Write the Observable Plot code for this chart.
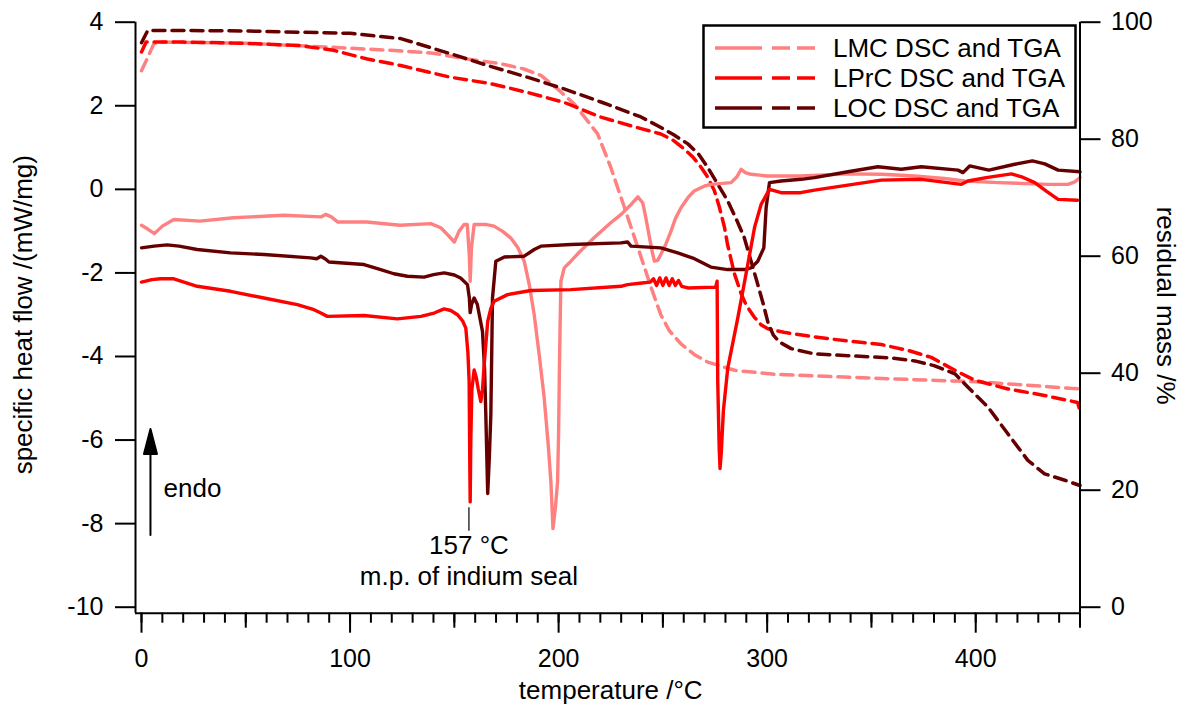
<!DOCTYPE html>
<html><head><meta charset="utf-8">
<script src="https://cdn.jsdelivr.net/npm/d3@7"></script>
<script src="https://cdn.jsdelivr.net/npm/@observablehq/plot@0.6"></script>
<style>
html,body{margin:0;padding:0;background:#fff;}
#wrap{position:relative;width:1184px;height:706px;overflow:hidden;font-family:"Liberation Sans",Arial,sans-serif;}
</style></head><body><div id="wrap"></div>
<script>
// ---------- data ----------
const seriesNames = ["LMC", "LPrC", "LOC"];
const seriesColors = ["#ff8080", "#ff0000", "#660000"];
const legendLabels = ["LMC DSC and TGA", "LPrC DSC and TGA", "LOC DSC and TGA"];

// DSC: [temperature °C, specific heat flow mW/mg]
const lmcDSC = [[0,-0.86],[3,-0.95],[6.2,-1.06],[10,-0.88],[15.5,-0.72],[28,-0.76],[44,-0.68],[68,-0.62],[86,-0.66],[88.3,-0.6],[91,-0.66],[94,-0.78],[108,-0.78],[124,-0.86],[138.7,-0.82],[143.5,-0.92],[147,-1.1],[150,-1.26],[152.3,-1.0],[154.7,-0.84],[156.2,-0.84],[157.2,-1.6],[157.6,-2.2],[158.2,-1.4],[159.5,-0.84],[165,-0.84],[169,-0.88],[173,-1.0],[177,-1.16],[180.5,-1.4],[183.5,-1.72],[186,-2.3],[188.3,-3.0],[190.8,-4.0],[193.1,-5.0],[195,-6.1],[196.3,-7.0],[197.3,-8.12],[198.5,-7.6],[199.5,-7.0],[200,-5.8],[200.3,-4.6],[200.7,-3.3],[201.1,-2.2],[202.7,-1.88],[205.9,-1.72],[210,-1.5],[217,-1.16],[225,-0.8],[230,-0.6],[235,-0.35],[238,-0.18],[240.3,-0.32],[241.5,-0.6],[242.7,-0.92],[244.5,-1.4],[245.9,-1.72],[247.5,-1.7],[249,-1.56],[251.5,-1.3],[253.9,-1.0],[256,-0.7],[258.7,-0.44],[262,-0.2],[265,-0.04],[270,0.08],[273,0.12],[282.7,0.16],[285.5,0.3],[287.5,0.48],[289.5,0.4],[292.3,0.36],[300,0.32],[316,0.32],[338.7,0.37],[355,0.36],[370.7,0.32],[385,0.26],[394.7,0.2],[410.7,0.16],[434.7,0.12],[444.3,0.12],[447.5,0.18],[450,0.28]];
const lprcDSC = [[0,-2.22],[5,-2.16],[9,-2.14],[15.5,-2.14],[26.7,-2.32],[42.7,-2.44],[58.7,-2.6],[74.7,-2.76],[82.7,-2.88],[86,-2.96],[89.1,-3.04],[106.7,-3.02],[122.7,-3.1],[134,-3.04],[140.3,-2.96],[145.1,-2.86],[148.3,-2.9],[151.5,-3.0],[154,-3.15],[155.5,-3.32],[156.5,-3.9],[157.1,-4.6],[157.4,-6.5],[157.6,-7.48],[157.9,-6.0],[158.4,-4.8],[159.5,-4.32],[160.5,-4.5],[161.4,-4.76],[162.7,-5.08],[163.5,-4.8],[164.3,-4.2],[166,-3.16],[167.5,-2.85],[169.1,-2.68],[175.5,-2.52],[186.7,-2.42],[205.9,-2.4],[229.9,-2.32],[233,-2.28],[240,-2.24],[244,-2.22],[245.5,-2.14],[247,-2.3],[248.5,-2.12],[250,-2.3],[251.5,-2.12],[253,-2.3],[254.5,-2.14],[256,-2.3],[257.5,-2.18],[259,-2.32],[262,-2.36],[275.3,-2.34],[276,-2.2],[276.3,-4.6],[277,-6.2],[277.4,-6.68],[278,-6.3],[279,-5.3],[281.1,-4.28],[285.9,-3.08],[290.7,-1.8],[294,-0.9],[297.1,-0.36],[301.1,0.0],[306.7,-0.08],[316,-0.08],[322.7,-0.02],[338.7,0.1],[354.7,0.22],[373.9,0.24],[393.1,0.12],[396.3,0.2],[405,0.28],[417.1,0.37],[422,0.3],[428.3,0.16],[434,-0.05],[439.5,-0.24],[448.8,-0.26]];
const locDSC = [[0,-1.4],[6,-1.36],[12.3,-1.33],[18,-1.36],[26.7,-1.44],[42.7,-1.52],[58.7,-1.56],[81.1,-1.64],[84,-1.66],[86,-1.6],[88,-1.66],[89.9,-1.74],[106.7,-1.8],[114.7,-1.92],[121,-2.02],[127.5,-2.08],[135.5,-2.1],[140,-2.04],[145.1,-2.0],[150,-2.05],[153,-2.12],[156.3,-2.28],[157.2,-2.6],[157.6,-2.95],[158.3,-2.75],[159.5,-2.6],[161,-2.75],[163.5,-3.4],[164.5,-4.3],[165.1,-5.4],[166,-7.28],[166.8,-6.4],[167.5,-5.4],[168.3,-2.6],[169.9,-1.72],[174,-1.62],[183.5,-1.6],[188.3,-1.44],[191.5,-1.36],[205.9,-1.32],[229.9,-1.28],[233.1,-1.26],[234.7,-1.36],[249,-1.4],[257.1,-1.52],[265.1,-1.66],[273,-1.86],[281,-1.92],[289.1,-1.92],[292.3,-1.88],[295.5,-1.72],[298.4,-1.4],[299.5,-0.44],[301.1,0.16],[306.7,0.2],[316.3,0.24],[322.7,0.28],[338.7,0.42],[353.1,0.54],[364.3,0.48],[373.9,0.54],[391.5,0.46],[393.9,0.4],[397.1,0.56],[406.3,0.46],[418.7,0.6],[427.2,0.68],[433.1,0.61],[439.5,0.46],[450,0.42]];

// TGA: [temperature °C, residual mass %]
const lmcTGA = [[0,91.7],[3,94],[5.9,96.3],[10,96.6],[50,96.4],[92,95.7],[119.5,95.2],[140,94.7],[156.3,93.7],[172.3,92.9],[183.4,92.0],[191.5,90.9],[199.5,88.6],[207.5,86.0],[212,84],[218.7,80.9],[225,75.2],[231.5,68.4],[238,61.5],[244.3,54.7],[249,50],[253,47.3],[258.7,45],[265,43.2],[271.5,41.9],[284.4,40.5],[303.6,39.8],[332,39.4],[370.8,38.9],[402.7,38.5],[434.7,37.7],[450,37.3]];
const lprcTGA = [[0,94.9],[2.2,96.6],[20,96.6],[50,96.4],[76,96.0],[92,95.2],[108.3,93.7],[124.3,92.6],[148,90.6],[167.5,89.5],[185,88],[202.6,86.3],[220,83.8],[239.5,81.8],[249,80.9],[255,79.8],[260,78.4],[264.5,76.9],[268.3,75.2],[271.5,73.5],[274.7,71.2],[277,68.5],[279.5,65],[281,62],[284.3,57],[287.5,53.6],[290,51.6],[293.8,49.6],[297,48.3],[300.3,47.6],[308,47],[322.6,46.2],[338.7,45.5],[354.7,44.9],[367.5,43.9],[378.7,42.7],[390,40.5],[399.5,38.8],[415.5,37.3],[433,36.2],[448.8,35],[450,33.6]];
const locTGA = [[0,96.5],[3,98.6],[10,98.6],[50,98.5],[100,98.1],[124.3,97.2],[148.3,94.6],[166,92.6],[185,90.6],[202.6,88.6],[220,86.4],[239.5,83.8],[247.5,82.3],[255,80.8],[262,79.2],[267,77.5],[271.5,75.2],[276,72.5],[281,69.5],[285,66.5],[289,63.2],[292,59.5],[295,55.8],[298,52],[300.5,48.5],[303,46.5],[306,45.3],[311.5,44.2],[322.6,43.3],[338.7,43],[359.5,42.6],[370.8,42.1],[380,41.3],[390,39.9],[396.3,37.6],[405.9,34.2],[415.5,29.6],[425,25.1],[433,22.8],[442.7,21.7],[450,20.8]];

// axes & ticks
const xMajorTicks = [0, 100, 200, 300, 400];
const xMidTicks = [50, 150, 250, 350, 450];
const xMinorTicks = d3.range(0, 451, 10);
const yLeftTicks = [-10, -8, -6, -4, -2, 0, 2, 4];
const yRightTicks = [0, 20, 40, 60, 80, 100];
const xTitle = "temperature /°C";
const yLeftTitle = "specific heat flow /(mW/mg)";
const yRightTitle = "residual mass /%";

// annotations
const meltLabel = [{T: 157, v: -9.46, text: "157 °C\nm.p. of indium seal"}];
const meltTick = [{T: 157, v1: -7.62, v2: -8.18}];
const endoArrow = [{T: 4.3, v: -8.27}];
const endoLabel = [{T: 10.6, v: -7.36, text: "endo"}];

// ---------- chart ----------
// residual mass (0–100 %) shares the vertical extent of the heat-flow axis (−10…4)
const massToY = m => -10 + m * 14 / 100;
const yToMass = y => (y + 10) * 100 / 14;

const dscSets = [lmcDSC, lprcDSC, locDSC];
const tgaSets = [lmcTGA, lprcTGA, locTGA];
const tgaMarks = [0, 1, 2].map(i => Plot.line(tgaSets[i], {
  x: d => d[0], y: d => massToY(d[1]), stroke: seriesColors[i],
  strokeWidth: 3.5, strokeDasharray: "12,7", strokeLinejoin: "round"
}));
const dscOrder = [0, 2, 1];
const dscMarks = dscOrder.map(i => Plot.line(dscSets[i], {
  x: d => d[0], y: d => d[1], stroke: seriesColors[i],
  strokeWidth: 3.4, strokeLinejoin: "round"
}));

const arrowShape = {
  draw(ctx, l) {
    const hl = 25, hw = 6.5;
    ctx.moveTo(0, 0);
    ctx.lineTo(0, -(l - hl));
    ctx.moveTo(-hw, -(l - hl));
    ctx.lineTo(0, -l);
    ctx.lineTo(hw, -(l - hl));
    ctx.closePath();
  }
};

const font = "'Liberation Sans', Arial, sans-serif";
const chart = Plot.plot({
  width: 1184, height: 706,
  marginLeft: 141, marginRight: 104.5, marginTop: 21.7, marginBottom: 99.3,
  x: {domain: [0, 450]},
  y: {domain: [-10, 4]},
  style: {fontFamily: font, fontSize: "25px", color: "black", background: "white"},
  marks: [
    ...tgaMarks,
    ...dscMarks,
    // axis lines
    Plot.ruleX([0], {dx: -6, insetBottom: -6, stroke: "black", strokeWidth: 2}),
    Plot.ruleY([-10], {dy: 6, insetLeft: -6, stroke: "black", strokeWidth: 2}),
    Plot.ruleX([450], {insetBottom: -6, stroke: "black", strokeWidth: 2}),
    // left axis
    Plot.axisY({anchor: "left", ticks: yLeftTicks, tickSize: 20, tickPadding: 12, dx: -6,
      tickFormat: d => String(d), strokeWidth: 2, label: null}),
    // right axis (residual mass)
    Plot.axisY({anchor: "right", ticks: yRightTicks.map(massToY), tickSize: 20, tickPadding: 11,
      tickFormat: v => String(Math.round(yToMass(v))), strokeWidth: 2, label: null}),
    // bottom axis
    Plot.axisX({anchor: "bottom", ticks: xMinorTicks, tickSize: 10, dy: 6, tickFormat: () => "", strokeWidth: 2, label: null}),
    Plot.axisX({anchor: "bottom", ticks: xMidTicks, tickSize: 15, dy: 6, tickFormat: () => "", strokeWidth: 2, label: null}),
    Plot.axisX({anchor: "bottom", ticks: xMajorTicks, tickSize: 20, tickPadding: 16, dy: 6,
      tickFormat: d => String(d), strokeWidth: 2, label: null}),
    // axis titles
    Plot.text([yLeftTitle], {text: d => d, frameAnchor: "left", textAnchor: "middle", rotate: -90, dx: -118, lineAnchor: "middle", fontSize: 26}),
    Plot.text([yRightTitle], {text: d => d, frameAnchor: "right", textAnchor: "middle", rotate: 90, dx: 85, dy: -9, lineAnchor: "middle", fontSize: 26}),
    Plot.text([xTitle], {text: d => d, frameAnchor: "bottom", textAnchor: "middle", dy: 73.5, lineAnchor: "top", fontSize: 26}),
    // annotations
    Plot.ruleX(meltTick, {x: "T", y1: "v1", y2: "v2", stroke: "black", strokeWidth: 1.2}),
    Plot.text(meltLabel, {x: "T", y: "v", text: "text", lineAnchor: "bottom", lineHeight: 1.17, fontSize: 26}),
    Plot.vector(endoArrow, {x: "T", y: "v", length: 106, rotate: 0, anchor: "start", shape: arrowShape,
      stroke: "black", fill: "black", strokeWidth: 2}),
    Plot.text(endoLabel, {x: "T", y: "v", text: "text", textAnchor: "start", lineAnchor: "bottom", fontSize: 26})
  ]
});

const wrap = document.getElementById("wrap");
wrap.appendChild(chart);

// ---------- legend ----------
const lg = d3.create("svg").attr("width", 1184).attr("height", 706)
  .style("position", "absolute").style("left", "0px").style("top", "0px")
  .style("font-family", font);
lg.append("rect").attr("x", 703.5).attr("y", 25.5).attr("width", 372).attr("height", 102)
  .attr("fill", "white").attr("stroke", "black").attr("stroke-width", 2.5);
const rowY = [48, 78, 108];
legendLabels.forEach((lab, i) => {
  const y = rowY[i];
  lg.append("line").attr("x1", 715).attr("x2", 762).attr("y1", y).attr("y2", y)
    .attr("stroke", seriesColors[i]).attr("stroke-width", 3.5);
  lg.append("line").attr("x1", 772).attr("x2", 822).attr("y1", y).attr("y2", y)
    .attr("stroke", seriesColors[i]).attr("stroke-width", 3.5).attr("stroke-dasharray", "18,7");
  lg.append("text").attr("x", 833).attr("y", y).attr("dy", "0.33em")
    .attr("font-size", 26).attr("fill", "black").text(lab);
});
wrap.appendChild(lg.node());
</script>
</body></html>
